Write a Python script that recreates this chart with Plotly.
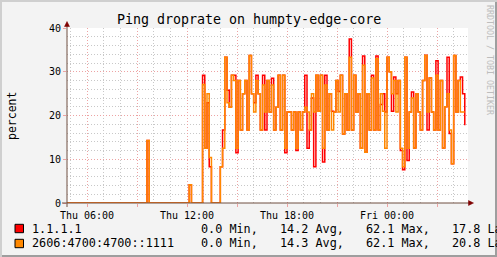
import plotly.graph_objects as go
import pandas as pd

# ---------------- data ----------------
start_time = "2024-01-04 04:48"   # Thursday
step_minutes = 8

orange_2606 = [
    0, 0, 0, 0, 0, 0, 0, 0, 0, 0, 0, 0, 0, 0, 0, 0, 0, 0, 0, 0,
    0, 0, 0, 0, 0, 0, 0, 0, 0, 0, 0, 0, 0, 0, 0, 0, 14.3, 0, 0, 0,
    0, 0, 0, 0, 0, 0, 0, 0, 0, 0, 0, 0, 0, 0, 0, 4.2, 0, 0, 0, 0,
    0, 27.1, 12.5, 25, 10.4, 0, 0, 0, 0, 8.3, 12.5, 33.3, 22.9, 21.9, 29.2, 28, 12.5, 28, 16.7, 25,
    28, 16.7, 33.7, 25, 20.8, 28, 25, 16.7, 27, 20.8, 28, 20.8, 27, 16.7, 21.9, 29.2, 16.7, 29.2, 12.5, 20.8,
    20.8, 16.7, 20.8, 12.5, 20.8, 16.7, 20.8, 21.9, 20.8, 16.7, 25, 20.8, 29.2, 21, 29.2, 12.5, 27, 16.7, 25, 16.7,
    20.8, 28, 20.8, 29.2, 15.8, 25, 16.7, 33.3, 16.7, 29.2, 20.8, 25, 12.5, 31.5, 11.6, 25, 16.7, 28.6, 16.7, 33,
    16.7, 25, 21, 12.5, 33.3, 30, 25, 28, 20.8, 28, 12.5, 8.3, 33.3, 12.5, 20.8, 24, 12.6, 25, 20.8, 16.7,
    28, 33.7, 20.8, 28.6, 20.8, 16.7, 29.2, 16.7, 28, 12.6, 22, 25, 16.7, 9.0, 33.7, 20.8, 28, 20.8, 20.8, 20.8,
]

red_1111 = [
    0, 0, 0, 0, 0, 0, 0, 0, 0, 0, 0, 0, 0, 0, 0, 0, 0, 0, 0, 0,
    0, 0, 0, 0, 0, 0, 0, 0, 0, 0, 0, 0, 0, 0, 0, 0, 14.3, 0, 0, 0,
    0, 0, 0, 0, 0, 0, 0, 0, 0, 0, 0, 0, 0, 0, 0, 4.2, 0, 0, 0, 0,
    0, 29.2, 12.5, 22.9, 8.3, 0, 0, 0, 0, 8.3, 16.7, 33.3, 25.8, 21.9, 29.2, 29.2, 11.5, 28, 16.7, 25,
    28, 16.7, 33.7, 25, 22.9, 29.2, 25, 16.7, 29.2, 16.7, 28, 20.8, 28.5, 16.7, 21.9, 29.2, 16.7, 29.2, 11.5, 20.8,
    20.8, 16.7, 20.8, 12.0, 20.8, 16.7, 20.8, 29.2, 12.5, 16.7, 24, 8.3, 29.2, 21, 29.2, 9.4, 29.2, 16.7, 25, 21,
    20.8, 28, 25.5, 29.2, 15.8, 25, 16.7, 37.5, 16.7, 29.2, 20.8, 25, 12.5, 33.6, 11.6, 25, 16.7, 29.2, 16.7, 33.6,
    16.7, 22.5, 25, 20.8, 33.3, 30, 21, 28.8, 25, 28, 12.0, 7.6, 33.3, 9.7, 20.8, 25.4, 12.6, 25, 20.8, 16.7,
    28, 33.8, 16.7, 28.6, 20.8, 16.7, 32.5, 16.7, 28, 12.6, 22, 33.3, 15.9, 9.0, 33.7, 20.8, 28, 28.8, 25, 17.8,
]

series_names = ["1.1.1.1", "2606:4700:4700::1111"]
series_colors = ["#FF0000", "#FF8800"]
legend_stats = [
    ["0.0 Min,", "14.2 Avg,", "62.1 Max,", "17.8 Last"],
    ["0.0 Min,", "14.3 Avg,", "62.1 Max,", "20.8 Last"],
]

x_range = ["2024-01-04 04:48:00", "2024-01-05 04:51:36"]
x_tickvals = ["2024-01-04 06:00", "2024-01-04 09:00", "2024-01-04 12:00", "2024-01-04 15:00",
              "2024-01-04 18:00", "2024-01-04 21:00", "2024-01-05 00:00", "2024-01-05 03:00"]
x_ticktext = ["Thu 06:00", "", "Thu 12:00", "", "Thu 18:00", "", "Fri 00:00", ""]
y_tickvals = [0, 10, 20, 30, 40]

title_text = "Ping droprate on humpty-edge-core"
y_title = "percent"
watermark = "RRDTOOL / TOBI OETIKER"

# ---------------- figure ----------------
W, H = 497, 257
L, R, T, B = 67, 29, 28, 54
PW, PH = W - L - R, H - T - B


def px(x):
    return (x - L) / PW


def py(y):
    return (H - B - y) / PH


times = pd.date_range(start_time, periods=len(orange_2606), freq=f"{step_minutes}min")

MONO = "DejaVu Sans Mono"
fig = go.Figure()
fig.add_trace(go.Scatter(x=times, y=red_1111, mode="lines", line=dict(color=series_colors[0], width=1.5, shape="hv"),
                         name=series_names[0], hoverinfo="skip"))
fig.add_trace(go.Scatter(x=times, y=orange_2606, mode="lines", line=dict(color=series_colors[1], width=1.5, shape="hv"),
                         name=series_names[1], hoverinfo="skip"))

MGRID = "#EDA3A3"
GRID = "#C8C8C8"

fig.update_layout(
    width=W, height=H, margin=dict(l=L, r=R, t=T, b=B, pad=0),
    paper_bgcolor="#F3F3F3", plot_bgcolor="#FFFFFF",
    showlegend=False,
    font=dict(family=MONO, size=10, color="#000000"),
    xaxis=dict(type="date", range=x_range, tickmode="array", tickvals=x_tickvals, ticktext=x_ticktext,
               showgrid=True, gridcolor=MGRID, griddash="1px,2px", gridwidth=1,
               ticks="outside", ticklen=3, tickcolor=MGRID,
               minor=dict(tickmode="linear", tick0="2024-01-04 00:00", dtick=3600000, showgrid=True,
                          gridcolor=GRID, griddash="1px,2px", gridwidth=1),
               zeroline=False, showline=False, tickfont=dict(family=MONO, size=10)),
    yaxis=dict(range=[0, 40], tickmode="array", tickvals=y_tickvals, ticktext=[str(v) for v in y_tickvals],
               showgrid=True, gridcolor=MGRID, griddash="1px,2px", gridwidth=1,
               ticks="outside", ticklen=3, tickcolor=MGRID,
               minor=dict(tickmode="linear", tick0=0, dtick=2, showgrid=True,
                          gridcolor=GRID, griddash="1px,2px", gridwidth=1),
               zeroline=False, showline=False, tickfont=dict(family=MONO, size=10)),
)

AXIS = "#6E4E40"
ARROW = "#7F0000"
shapes = [
    # y axis
    dict(type="line", xref="paper", yref="paper", x0=px(67), x1=px(67), y0=py(207), y1=py(26),
         line=dict(color=AXIS, width=1)),
    dict(type="path", xref="paper", yref="paper",
         path=f"M {px(64.5)} {py(26.5)} L {px(67)} {py(21.5)} L {px(69.5)} {py(26.5)} Z",
         fillcolor=ARROW, line=dict(color=ARROW, width=0.5)),
    # x axis
    dict(type="line", xref="paper", yref="paper", x0=px(62), x1=px(469), y0=py(203), y1=py(203),
         line=dict(color=AXIS, width=1)),
    dict(type="path", xref="paper", yref="paper",
         path=f"M {px(468.5)} {py(200.5)} L {px(473.5)} {py(203)} L {px(468.5)} {py(205.5)} Z",
         fillcolor=ARROW, line=dict(color=ARROW, width=0.5)),
    # frame shading
    dict(type="rect", xref="paper", yref="paper", x0=px(0), x1=px(W), y0=py(H - 2), y1=py(H),
         fillcolor="#9E9E9E", line=dict(width=0), layer="below"),
    dict(type="rect", xref="paper", yref="paper", x0=px(W - 2), x1=px(W), y0=py(0), y1=py(H),
         fillcolor="#9E9E9E", line=dict(width=0), layer="below"),
    dict(type="rect", xref="paper", yref="paper", x0=px(0), x1=px(W), y0=py(0), y1=py(2),
         fillcolor="#CFCFCF", line=dict(width=0), layer="below"),
    dict(type="rect", xref="paper", yref="paper", x0=px(0), x1=px(2), y0=py(0), y1=py(H),
         fillcolor="#CFCFCF", line=dict(width=0), layer="below"),
]

annotations = [
    dict(text=title_text, xref="paper", yref="paper", x=px(248.5), y=py(19.5), showarrow=False,
         xanchor="center", yanchor="middle", font=dict(family=MONO, size=13.3, color="#000000")),
    dict(text=y_title, xref="paper", yref="paper", x=px(11.5), y=py(115.5), showarrow=False, textangle=-90,
         xanchor="center", yanchor="middle", font=dict(family=MONO, size=11.5, color="#000000")),
    dict(text=watermark, xref="paper", yref="paper", x=px(490), y=py(60), showarrow=False, textangle=90,
         xanchor="center", yanchor="middle", font=dict(family=MONO, size=8.3, color="#BDBDBD")),
]

legend_rows_y = [228.5, 243.5]
stat_x = [200, 279.3, 365, 451.7]
for i in range(2):
    yc = legend_rows_y[i]
    shapes.append(dict(type="rect", xref="paper", yref="paper", x0=px(15), x1=px(23.5), y0=py(yc - 4.2),
                       y1=py(yc + 4.2), fillcolor=series_colors[i], line=dict(color="#000000", width=1)))
    annotations.append(dict(text=series_names[i], xref="paper", yref="paper", x=px(29.5), y=py(yc),
                            showarrow=False, xanchor="left", yanchor="middle",
                            font=dict(family=MONO, size=11.8, color="#000000")))
    for j, s in enumerate(legend_stats[i]):
        annotations.append(dict(text=s, xref="paper", yref="paper", x=px(stat_x[j] - 1.5), y=py(yc),
                                showarrow=False, xanchor="left", yanchor="middle",
                                font=dict(family=MONO, size=11.8, color="#000000")))

fig.update_layout(shapes=shapes, annotations=annotations)
fig.write_html("out.html")
